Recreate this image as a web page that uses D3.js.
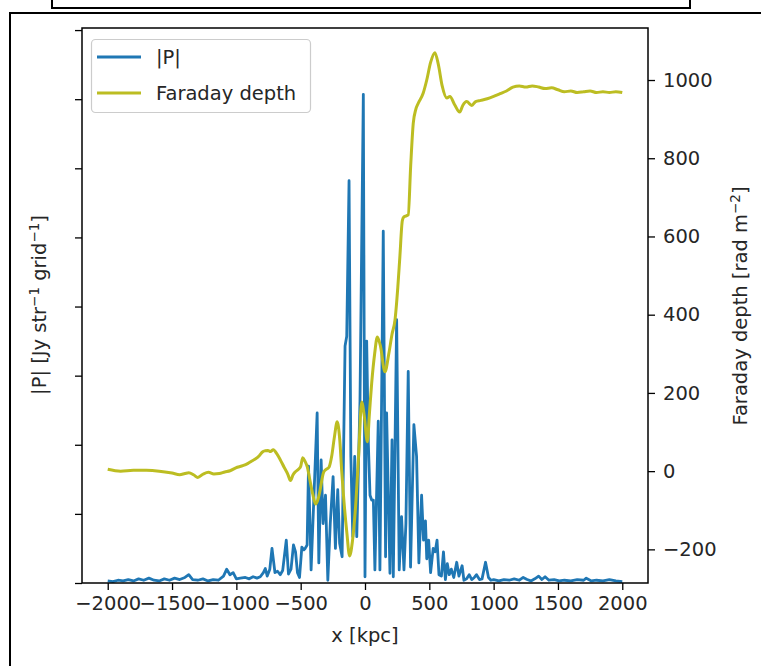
<!DOCTYPE html>
<html>
<head>
<meta charset="utf-8">
<script src="https://cdn.jsdelivr.net/npm/d3@7"></script>
<style>
	body { margin: 0; background: #fff; }
	svg { display: block; font-family: "DejaVu Sans", sans-serif; }
</style>
</head>
<body>
<div id="chart"></div>
<script>

// ---- data ----
var xTicks = [-2000, -1500, -1000, -500, 0, 500, 1000, 1500, 2000];
var pTicks = [0, 1, 2, 3, 4, 5, 6, 7, 8];
var fdTicks = [-200, 0, 200, 400, 600, 800, 1000];

// |P| (arbitrary units: one unit per unlabeled left tick)
var pPos = [-2000, -1960, -1920, -1880, -1840, -1800, -1760, -1720, -1680, -1640, -1600, -1560, -1520, -1480, -1440, -1400,
	-1370, -1340, -1300, -1260, -1220, -1180, -1140, -1100, -1075, -1050, -1025, -1000, -969, -930, -900, -870, -840, -814,
	-790, -775, -760, -740, -723, -700, -680, -659, -640, -612, -595, -575, -556, -540, -525, -509, -491, -475, -465, -450,
	-439, -419, -400, -372, -359, -341, -326, -307, -289, -270, -248, -230, -212, -197, -178, -155, -142, -124, -110, -95,
	-80, -64, -39, -13, 0, 13, 26, 39, 52, 65, 77, 103, 116, 142, 160, 168, 194, 210, 220, 246, 266, 284, 303, 318, 336,
	354, 380, 401, 419, 440, 455, 470, 480, 495, 510, 530, 545, 560, 575, 594, 610, 625, 640, 655, 671, 690, 713, 730,
	755, 769, 790, 810, 830, 850, 867, 890, 910, 937, 960, 979, 1000, 1040, 1080, 1120, 1160, 1200, 1230, 1260, 1290,
	1320, 1350, 1375, 1400, 1430, 1470, 1510, 1550, 1600, 1650, 1700, 1720, 1760, 1800, 1850, 1900, 1950, 2000];
var pAmp = [0.03, 0.02, 0.04, 0.03, 0.05, 0.03, 0.06, 0.04, 0.07, 0.04, 0.03, 0.06, 0.04, 0.07, 0.05, 0.08,
	0.12, 0.05, 0.04, 0.06, 0.03, 0.05, 0.04, 0.1, 0.2, 0.12, 0.15, 0.06, 0.07, 0.08, 0.06, 0.09, 0.07, 0.09,
	0.15, 0.21, 0.1, 0.2, 0.5, 0.15, 0.17, 0.12, 0.18, 0.62, 0.13, 0.2, 0.55, 0.45, 0.15, 0.08, 0.52, 0.48, 0.5, 0.55,
	1.69, 0.19, 1.11, 2.46, 0.29, 1.78, 0.86, 1.27, 0.04, 0.86, 1.54, 0.5, 1.35, 0.57, 0.38, 3.43, 3.57, 5.82, 1.83, 0.67,
	1.83, 0.67, 2.63, 7.07, 0.09, 3.5, 2.02, 1.27, 1.2, 1.2, 0.19, 2.34, 0.19, 5.09, 0.38, 2.46, 0.14, 2.07, 0.09, 3.81, 0.19, 0.96, 0.19, 0.86, 3.06,
	0.23, 2.29, 1.83, 0.29, 1.27, 0.62, 0.9, 0.35, 0.62, 0.15, 0.5, 0.45, 0.62, 0.12, 0.1, 0.45, 0.05, 0.28, 0.12, 0.2, 0.08, 0.3, 0.1,
	0.25, 0.04, 0.06, 0.12, 0.05, 0.08, 0.12, 0.05, 0.06, 0.3, 0.08, 0.04, 0.05, 0.03, 0.05, 0.04, 0.06, 0.04, 0.08, 0.05, 0.03,
	0.06, 0.1, 0.05, 0.09, 0.04, 0.05, 0.03, 0.04, 0.03, 0.05, 0.04, 0.07, 0.03, 0.04, 0.03, 0.05, 0.03, 0.02];

// Faraday depth [rad m^-2]
var fdPos = [-2000, -1900, -1800, -1700, -1600, -1500, -1440, -1400, -1370, -1330, -1300, -1260, -1217, -1175, -1133, -1090,
	-1049, -993, -950, -909, -880, -853, -820, -797, -775, -755, -735, -713, -685, -660, -629, -600, -579, -560, -545, -517,
	-500, -484, -466, -448, -430, -406, -384, -365, -350, -322, -300, -280, -258, -238, -216, -196, -181, -168, -140, -120,
	-98, -70, -48, -26, -5, 18, 35, 52, 75, 96, 120, 155, 185, 210, 233, 255, 271, 290, 302, 336, 355, 375, 395, 413, 452,
	480, 510, 543, 570, 600, 636, 660, 698, 736, 760, 790, 830, 860, 900, 950, 1000, 1050, 1100, 1150, 1200, 1250, 1300,
	1350, 1400, 1450, 1500, 1550, 1600, 1650, 1700, 1750, 1800, 1850, 1900, 1950, 2000];
var fdVal = [5, 0, 2, 2, 0, -5, -9, -6, -4, -10, -16, -8, -3, -7, -6, -2,
	1, 10, 14, 20, 26, 31, 40, 49, 52, 53, 50, 55, 44, 30, 10, -8, -24, -10, -3, 5,
	12, 34, 25, 10, -20, -59, -84, -72, -50, -3, 5, 10, 40, 87, 126, 79, 0, -59, -161, -217,
	-180, -75, 50, 177, 140, 75, 150, 225, 300, 343, 320, 254, 300, 350, 386, 470, 548, 640, 650, 655, 780, 889, 925, 940, 966,
	1000, 1045, 1070, 1040, 985, 954, 958, 936, 918, 935, 945, 935, 945, 948, 952, 958, 965, 972, 982, 985, 982, 985,
	982, 978, 980, 975, 970, 972, 968, 970, 972, 968, 970, 968, 970, 968];

var pData = pPos.map(function(x, i) { return { x: x, v: pAmp[i] }; });
var fdData = fdPos.map(function(x, i) { return { x: x, v: fdVal[i] }; });

// ---- layout ----
var width = 761, height = 666;
var plot = { left: 82, right: 648, top: 28, bottom: 583 };
var fontSize = 19.5;
var blue = "#1f77b4", olive = "#bcbd22", ink = "#262626";

var svg = d3.select("#chart").append("svg")
	.attr("width", width)
	.attr("height", height);

// frames of the surrounding page (cropped boxes)
svg.append("path")
	.attr("d", "M52,0V8H690V0")
	.attr("fill", "none")
	.attr("stroke", "#000")
	.attr("stroke-width", 2);
svg.append("path")
	.attr("d", "M761,13H10V666")
	.attr("fill", "none")
	.attr("stroke", "#000")
	.attr("stroke-width", 2);

var x = d3.scaleLinear().domain([-2200, 2200]).range([plot.left, plot.right]);
var yP = d3.scaleLinear().domain([0, 8.03]).range([plot.bottom, plot.top]);
var yFD = d3.scaleLinear().domain([-286, 1133]).range([plot.bottom, plot.top]);

var line = function(scaleY, curve) {
	return d3.line()
		.curve(curve)
		.x(function(d) { return x(d.x); })
		.y(function(d) { return scaleY(d.v); });
};

svg.append("path")
	.datum(pData)
	.attr("d", line(yP, d3.curveLinear))
	.attr("fill", "none")
	.attr("stroke", blue)
	.attr("stroke-width", 2.8)
	.attr("stroke-linejoin", "round");

// the depth profile is densely sampled in the original, so draw it smooth
svg.append("path")
	.datum(fdData)
	.attr("d", line(yFD, d3.curveMonotoneX))
	.attr("fill", "none")
	.attr("stroke", olive)
	.attr("stroke-width", 3)
	.attr("stroke-linejoin", "round");

// ---- axes ----
var fmt = d3.format("d");

function styleAxis(g) {
	g.select(".domain").remove();
	g.selectAll(".tick line").attr("stroke", "#000").attr("stroke-width", 1.3);
	g.selectAll(".tick text")
		.attr("fill", ink)
		.style("font-size", fontSize + "px")
		.style("font-family", "DejaVu Sans");
}

svg.append("g")
	.attr("transform", "translate(0," + plot.bottom + ")")
	.call(d3.axisBottom(x).tickValues(xTicks).tickSize(7).tickPadding(6).tickFormat(fmt))
	.call(styleAxis);

svg.append("g")
	.attr("transform", "translate(" + plot.left + ",0)")
	.call(d3.axisLeft(yP).tickValues(pTicks).tickSize(7).tickFormat(""))
	.call(styleAxis);

svg.append("g")
	.attr("transform", "translate(" + plot.right + ",0)")
	.call(d3.axisRight(yFD).tickValues(fdTicks).tickSize(7).tickPadding(8).tickFormat(fmt))
	.call(styleAxis);

svg.append("rect")
	.attr("x", plot.left)
	.attr("y", plot.top)
	.attr("width", plot.right - plot.left)
	.attr("height", plot.bottom - plot.top)
	.attr("fill", "none")
	.attr("stroke", "#000")
	.attr("stroke-width", 1.5);

// ---- axis labels ----
svg.append("text")
	.attr("x", x(0))
	.attr("y", 642)
	.attr("text-anchor", "middle")
	.attr("fill", ink)
	.style("font-size", fontSize + "px")
	.text("x [kpc]");

function rotatedLabel(cx, cy, parts) {
	var t = svg.append("text")
		.attr("transform", "translate(" + cx + "," + cy + ") rotate(-90)")
		.attr("text-anchor", "middle")
		.attr("fill", ink)
		.style("font-size", fontSize + "px");
	parts.forEach(function(p) {
		if (p.sup) {
			t.append("tspan").attr("dy", -7).style("font-size", "13.5px").text(p.text);
		} else {
			t.append("tspan").attr("dy", p.after ? 7 : 0).text(p.text);
		}
	});
}

rotatedLabel(46, 305, [
	{ text: "|P| [Jy str" }, { text: "\u22121", sup: true },
	{ text: " grid", after: true }, { text: "\u22121", sup: true },
	{ text: "]", after: true }
]);

rotatedLabel(747, 306, [
	{ text: "Faraday depth [rad m" }, { text: "\u22122", sup: true },
	{ text: "]", after: true }
]);

// ---- legend ----
var legendItems = [
	{ label: "|P|", color: blue },
	{ label: "Faraday depth", color: olive }
];

var legend = svg.append("g");
legend.append("rect")
	.attr("x", 91.5)
	.attr("y", 39.5)
	.attr("width", 219)
	.attr("height", 73)
	.attr("rx", 4)
	.attr("fill", "#fff")
	.attr("fill-opacity", 0.8)
	.attr("stroke", "#cccccc")
	.attr("stroke-width", 1.2);

legend.selectAll(".item")
	.data(legendItems)
	.enter()
	.append("g")
	.attr("class", "item")
	.attr("transform", function(d, i) { return "translate(0," + (57 + i * 36) + ")"; })
	.each(function(d) {
		var g = d3.select(this);
		g.append("line")
			.attr("x1", 97).attr("x2", 141)
			.attr("stroke", d.color)
			.attr("stroke-width", 2.8);
		g.append("text")
			.attr("x", 156)
			.attr("y", 7)
			.attr("fill", ink)
			.style("font-size", fontSize + "px")
			.text(d.label);
	});

</script>
</body>
</html>
